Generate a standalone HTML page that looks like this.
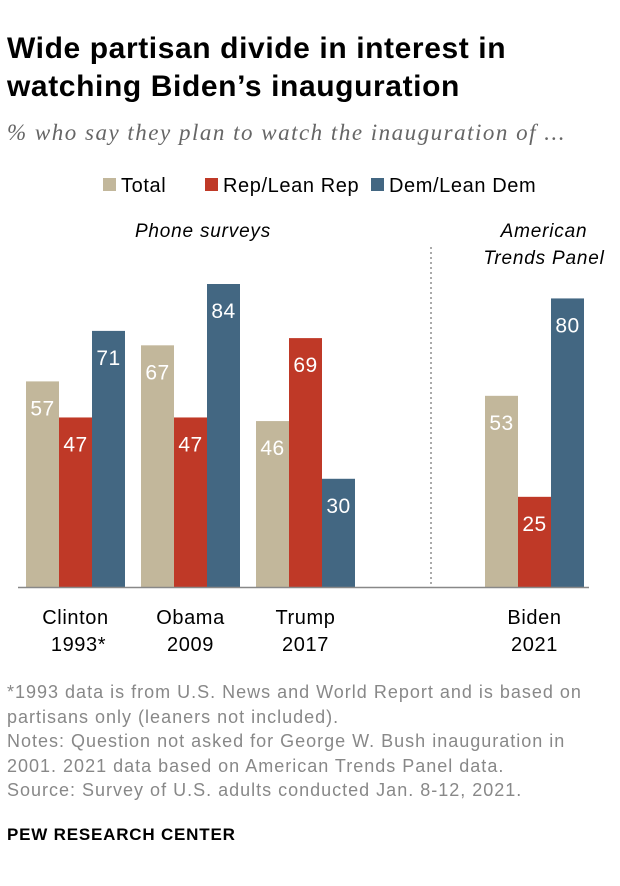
<!DOCTYPE html>
<html><head><meta charset="utf-8"><style>
body{margin:0;background:#fff;font-family:"Liberation Sans",Arial,sans-serif;}
#wrap{position:relative;width:620px;height:886px;overflow:hidden;}
.t{position:absolute;white-space:nowrap;}
</style></head><body>
<div id="wrap">
<div class="t" style="left:7px;top:30px;font-size:30px;letter-spacing:0.6px;font-weight:bold;line-height:38px;color:#000">Wide partisan divide in interest in<br>watching Biden’s inauguration</div>
<div class="t" style="left:7px;top:120px;font-size:23px;letter-spacing:1.5px;font-style:italic;color:#666;font-family:'Liberation Serif',serif">% who say they plan to watch the inauguration of ...</div>
<svg id="chart" width="620" height="886" style="position:absolute;left:0;top:0" xmlns="http://www.w3.org/2000/svg"></svg>
<div class="t" style="left:7px;top:680px;font-size:18px;letter-spacing:1px;line-height:24.5px;color:#888">*1993 data is from U.S. News and World Report and is based on<br>partisans only (leaners not included).<br>Notes: Question not asked for George W. Bush inauguration in<br>2001. 2021 data based on American Trends Panel data.<br>Source: Survey of U.S. adults conducted Jan. 8-12, 2021.</div>
<div class="t" style="left:7px;top:825px;font-size:17px;letter-spacing:0.8px;font-weight:bold;color:#000">PEW RESEARCH CENTER</div>
</div>
<script>
const categories=["Clinton|1993*","Obama|2009","Trump|2017","Biden|2021"];
const totalValues=[57,67,46,53];
const repValues=[47,47,69,25];
const demValues=[71,84,30,80];
const seriesNames=["Total","Rep/Lean Rep","Dem/Lean Dem"];
const colors=["#c2b79b","#bf3927","#436782"];
const NS="http://www.w3.org/2000/svg";
const svg=document.getElementById('chart');
const base=587, scale=303/84;
const groupX=[26,141,256,485];
const bw=33;
const y=v=>base-v*scale;
function mk(tag,attrs,text){const e=document.createElementNS(NS,tag);for(const k in attrs)e.setAttribute(k,attrs[k]);if(text!=null)e.textContent=text;svg.appendChild(e);return e;}
const legX=[103,205,371];
seriesNames.forEach((n,i)=>{
 const r=mk('rect',{x:legX[i],y:178,width:13,height:13,fill:colors[i]});
 
 
 const t=mk('text',{x:legX[i]+18,y:192,'font-size':20,'letter-spacing':0.6,fill:'#000'},n);
 
 
});
const l1=mk('text',{x:203,y:237,'font-size':19,'letter-spacing':0.8,'font-style':'italic','text-anchor':'middle',fill:'#000'},'Phone surveys');


const l2=mk('text',{x:544,y:237,'font-size':19,'letter-spacing':0.8,'font-style':'italic','text-anchor':'middle',fill:'#000'},'American');


const l3=mk('text',{x:544,y:264,'font-size':19,'letter-spacing':0.8,'font-style':'italic','text-anchor':'middle',fill:'#000'},'Trends Panel');


const dv=mk('line',{x1:431,y1:247,x2:431,y2:587,stroke:'#aaa','stroke-width':2,'stroke-dasharray':'2,3'});


const series=[totalValues,repValues,demValues];
categories.forEach((c,g)=>{
 series.forEach((vals,s)=>{
  const x=groupX[g]+s*bw, v=vals[g];
  const r=mk('rect',{x:x,y:y(v),width:bw,height:base-y(v),fill:colors[s]});
  
  
  const t=mk('text',{x:x+bw/2,y:y(v)+34,'font-size':21,'letter-spacing':0.5,'text-anchor':'middle',fill:'#fff'},String(v));
  
  
 });
 const [a,b]=c.split('|');
 const cx=groupX[g]+bw*1.5;
 const t1=mk('text',{x:cx,y:624,'font-size':20,'letter-spacing':0.6,'text-anchor':'middle',fill:'#000'},a);
 
 
 const t2=mk('text',{x:cx+(b.endsWith('*')?3:0),y:651,'font-size':20,'letter-spacing':0.6,'text-anchor':'middle',fill:'#000'},b);
 
 
});
const ax=mk('line',{x1:18,y1:587.5,x2:589,y2:587.5,stroke:'#888','stroke-width':1.5});


</script>
</body></html>
